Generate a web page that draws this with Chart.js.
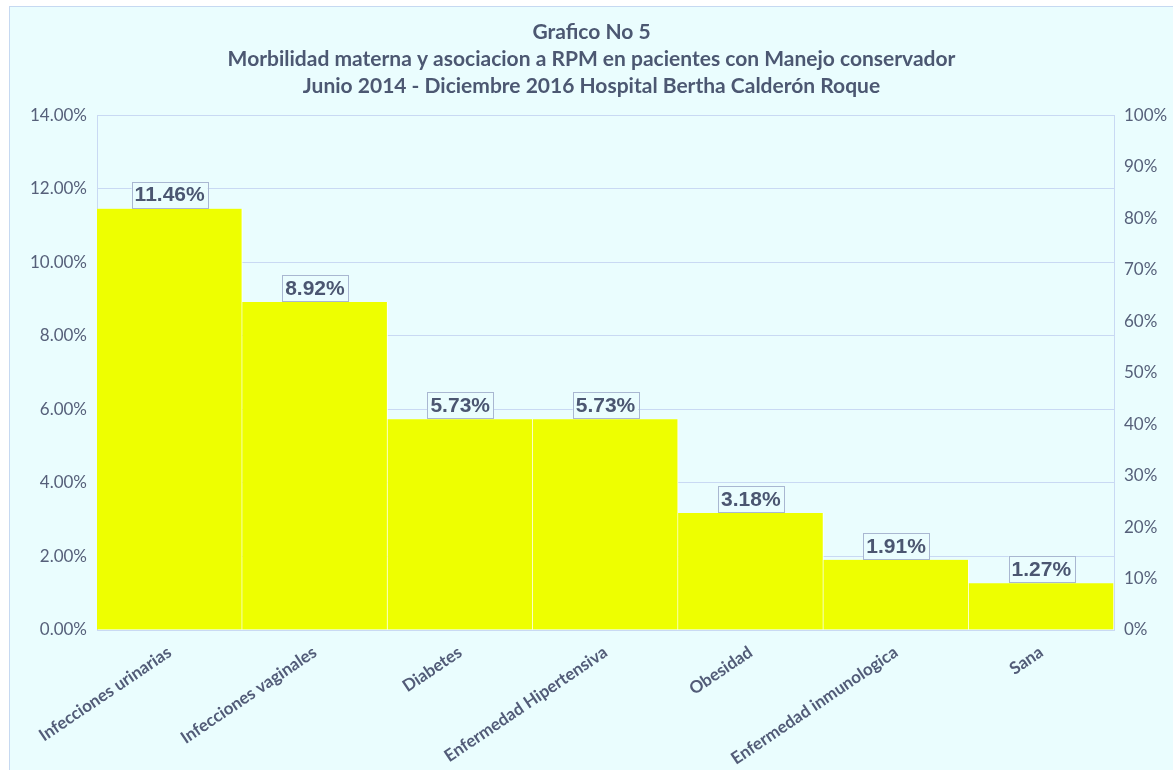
<!DOCTYPE html>
<html>
<head>
<meta charset="utf-8">
<script src="https://cdn.jsdelivr.net/npm/chart.js@4/dist/chart.umd.min.js"></script>
<style>
  body { margin: 0; background: #ffffff; overflow: hidden; }
  #wrap {
    position: absolute; left: 9px; top: 6px;
    width: 1200px; height: 800px;
    background: #eafdfe; border: 1px solid #c6d9f1;
  }
  canvas { display: block; }
</style>
</head>
<body>
<div id="wrap"><canvas id="morbChart" width="1163" height="763"></canvas></div>
<script>
const categories = [
  'Infecciones urinarias',
  'Infecciones vaginales',
  'Diabetes',
  'Enfermedad Hipertensiva',
  'Obesidad',
  'Enfermedad inmunologica',
  'Sana'
]
const porcentajes = [11.46, 8.92, 5.73, 5.73, 3.18, 1.91, 1.27]

const titleLines = [
  'Grafico No 5',
  'Morbilidad materna y asociacion a RPM en pacientes con Manejo conservador',
  'Junio 2014 - Diciembre 2016 Hospital Bertha Calderón Roque'
]

const bgColor = '#eafdfe'
const textColor = '#56607a'
const gridColor = '#c9d9f3'

// boxed value labels over each bar
const valueBoxes = {
  id: 'valueBoxes',
  afterDatasetsDraw(chart) {
    const ctx = chart.ctx
    const meta = chart.getDatasetMeta(0)
    ctx.save()
    ctx.font = 'bold 21px "Liberation Sans", Arial, sans-serif'
    ctx.textAlign = 'center'
    ctx.textBaseline = 'middle'
    meta.data.forEach((bar, i) => {
      const txt = porcentajes[i].toFixed(2) + '%'
      const w = ctx.measureText(txt).width + 6
      const h = 26
      const x = bar.x - w / 2
      const y = bar.y - h - 1
      ctx.fillStyle = bgColor
      ctx.fillRect(x, y, w, h)
      ctx.strokeStyle = '#a9b7d1'
      ctx.lineWidth = 1
      ctx.strokeRect(Math.round(x) + 0.5, Math.round(y) + 0.5, Math.round(w), h)
      ctx.fillStyle = '#4b5671'
      ctx.fillText(txt, bar.x, y + h / 2 + 1)
    })
    ctx.restore()
  }
}

const ctx = document.getElementById('morbChart').getContext('2d')

new Chart(ctx, {
  type: 'bar',
  data: {
    labels: categories,
    datasets: [{
      data: porcentajes,
      backgroundColor: '#eeff00',
      borderColor: '#ffffff',
      borderWidth: { left: 0, right: 1, top: 0, bottom: 0 },
      borderSkipped: false,
      barPercentage: 1,
      categoryPercentage: 1,
      yAxisID: 'y'
    }]
  },
  options: {
    responsive: false,
    animation: false,
    layout: { padding: 0 },
    plugins: {
      legend: { display: false },
      tooltip: { enabled: false },
      title: {
        display: true,
        text: titleLines,
        color: '#4c5872',
        font: { family: 'Lato', size: 21, weight: 'bold', lineHeight: 1.29 },
        padding: { top: 12, bottom: 15 }
      }
    },
    scales: {
      x: {
        grid: { display: false },
        border: { display: true, color: gridColor },
        ticks: {
          color: '#525c78',
          font: { family: 'Lato', size: 17, weight: 'bold' },
          minRotation: 34,
          maxRotation: 34,
          padding: 4
        },
        afterFit(scale) { scale.height = 140 }
      },
      y: {
        position: 'left',
        min: 0,
        max: 14,
        ticks: {
          stepSize: 2,
          color: textColor,
          padding: 10,
          font: { family: 'Lato', size: 17 },
          callback: v => v.toFixed(2) + '%'
        },
        grid: { color: gridColor, drawTicks: false },
        border: { display: true, color: gridColor },
        afterFit(scale) { scale.width = 87 }
      },
      y1: {
        display: true,
        position: 'right',
        min: 0,
        max: 100,
        ticks: {
          stepSize: 10,
          color: textColor,
          padding: 10,
          font: { family: 'Lato', size: 17 },
          callback: v => v + '%'
        },
        grid: { drawOnChartArea: false, drawTicks: false },
        border: { display: true, color: gridColor },
        afterFit(scale) { scale.width = 59 }
      }
    }
  },
  plugins: [valueBoxes]
})
</script>
</body>
</html>
